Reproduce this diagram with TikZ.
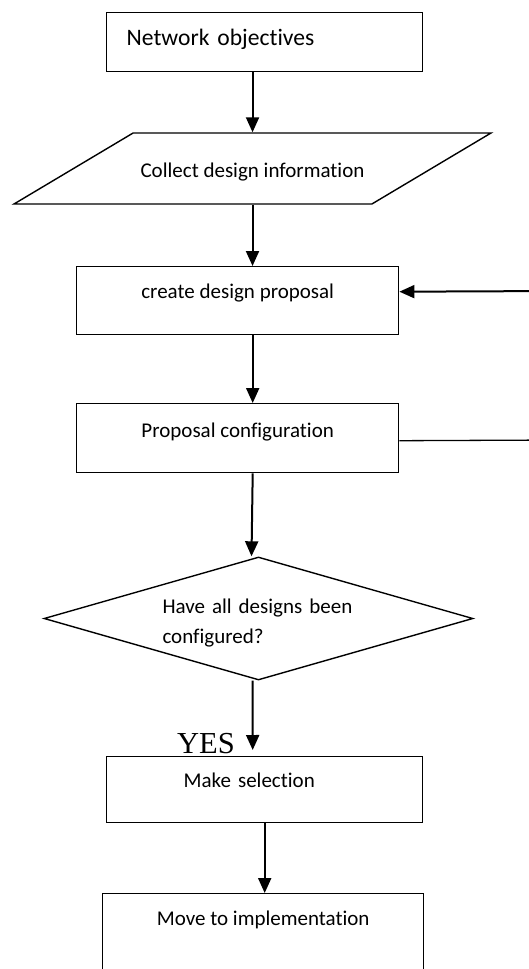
\documentclass[tikz,border=0pt]{standalone}
\usepackage{fontspec}
\setmainfont{Carlito}[Ligatures=CommonOff]
\newfontfamily\yesfont{Liberation Serif}
\usetikzlibrary{shapes.geometric}
\usetikzlibrary{arrows.meta}
\usetikzlibrary{calc}

\begin{document}
\begin{tikzpicture}[x=1pt, y=-1pt, >={Triangle[length=15pt,width=13pt]},
    box/.style={draw, rectangle, line width=1.4pt, inner sep=0pt, anchor=north west,
      font=\fontsize{21}{30}\selectfont},
    flow/.style={->, line width=2pt},
    link/.style={line width=1.3pt}]

      \useasboundingbox (0,0) rectangle (529,969);
      \clip (0,0) rectangle (529,969);

      \node at (106,12)
      [box, name=obj, inner xsep=20pt, text width=276pt,
      text height=33pt, text depth=26pt, font=\fontsize{23.6}{28}\selectfont]
      {Network objectives};

      \node [trapezium, trapezium left angle=30.8, trapezium right angle=149.2,
      trapezium stretches body, minimum width=477pt, minimum height=71pt,
      draw, line width=1.4pt, inner sep=0pt, text height=44pt, text depth=27pt,
      font=\fontsize{21}{30}\selectfont] at (252.5,168.5) [name=info]
      {Collect design information};

      \node at (76,266)
      [box, name=prop, minimum width=322pt, text height=32pt, text depth=36pt]
      {create design proposal};

      \node at (76,403)
      [box, name=conf, minimum width=322pt, text height=34pt, text depth=35pt]
      {Proposal configuration};

      \node [diamond, aspect=3.5, draw, line width=1.4pt, inner sep=0pt,
      minimum width=429pt, minimum height=123pt, text width=192pt,
      text height=20pt, text depth=31pt, font=\fontsize{21}{30}\selectfont]
      at (258.5,618.5) [name=check]
      {Have all designs been\\configured?};

      \node at (177,753)
      [anchor=base west, inner sep=0pt, name=yes, font=\yesfont\fontsize{30.5}{33}\selectfont]
      {YES};

      \node at (106,756)
      [box, name=sel, inner xsep=77pt, text width=162pt,
      text height=31pt, text depth=35pt]
      {Make selection};

      \node at (102,893)
      [box, name=impl, minimum width=321pt, text height=32pt, text depth=80pt]
      {Move to implementation};

      \draw [flow] (info.north |- obj.south) -- (info.north);
      \draw [flow] (info.south) -- (info.south |- prop.north);
      \draw [flow] ($(prop.south) + (15,0)$) -- ($(conf.north) + (15,0)$);
      \draw [flow] ($(conf.south) + (15,0)$) -- ($(check.north) + (-7,0)$);
      \draw [flow] ($(check.south) + (-6,0)$) -- ($(sel.north) + (-12,-6)$);
      \draw [flow] (sel.south) -- (sel.south |- impl.north);

      % back to the proposal
      \coordinate (back) at (560,440);
      \coordinate (backtop) at (560,291);
      \draw [link] ($(conf.east) + (0,2.5)$) -- (back) -- (backtop);
      \draw [flow] (backtop) -- ($(prop.east) + (0,-9)$);
    \end{tikzpicture}
\end{document}
